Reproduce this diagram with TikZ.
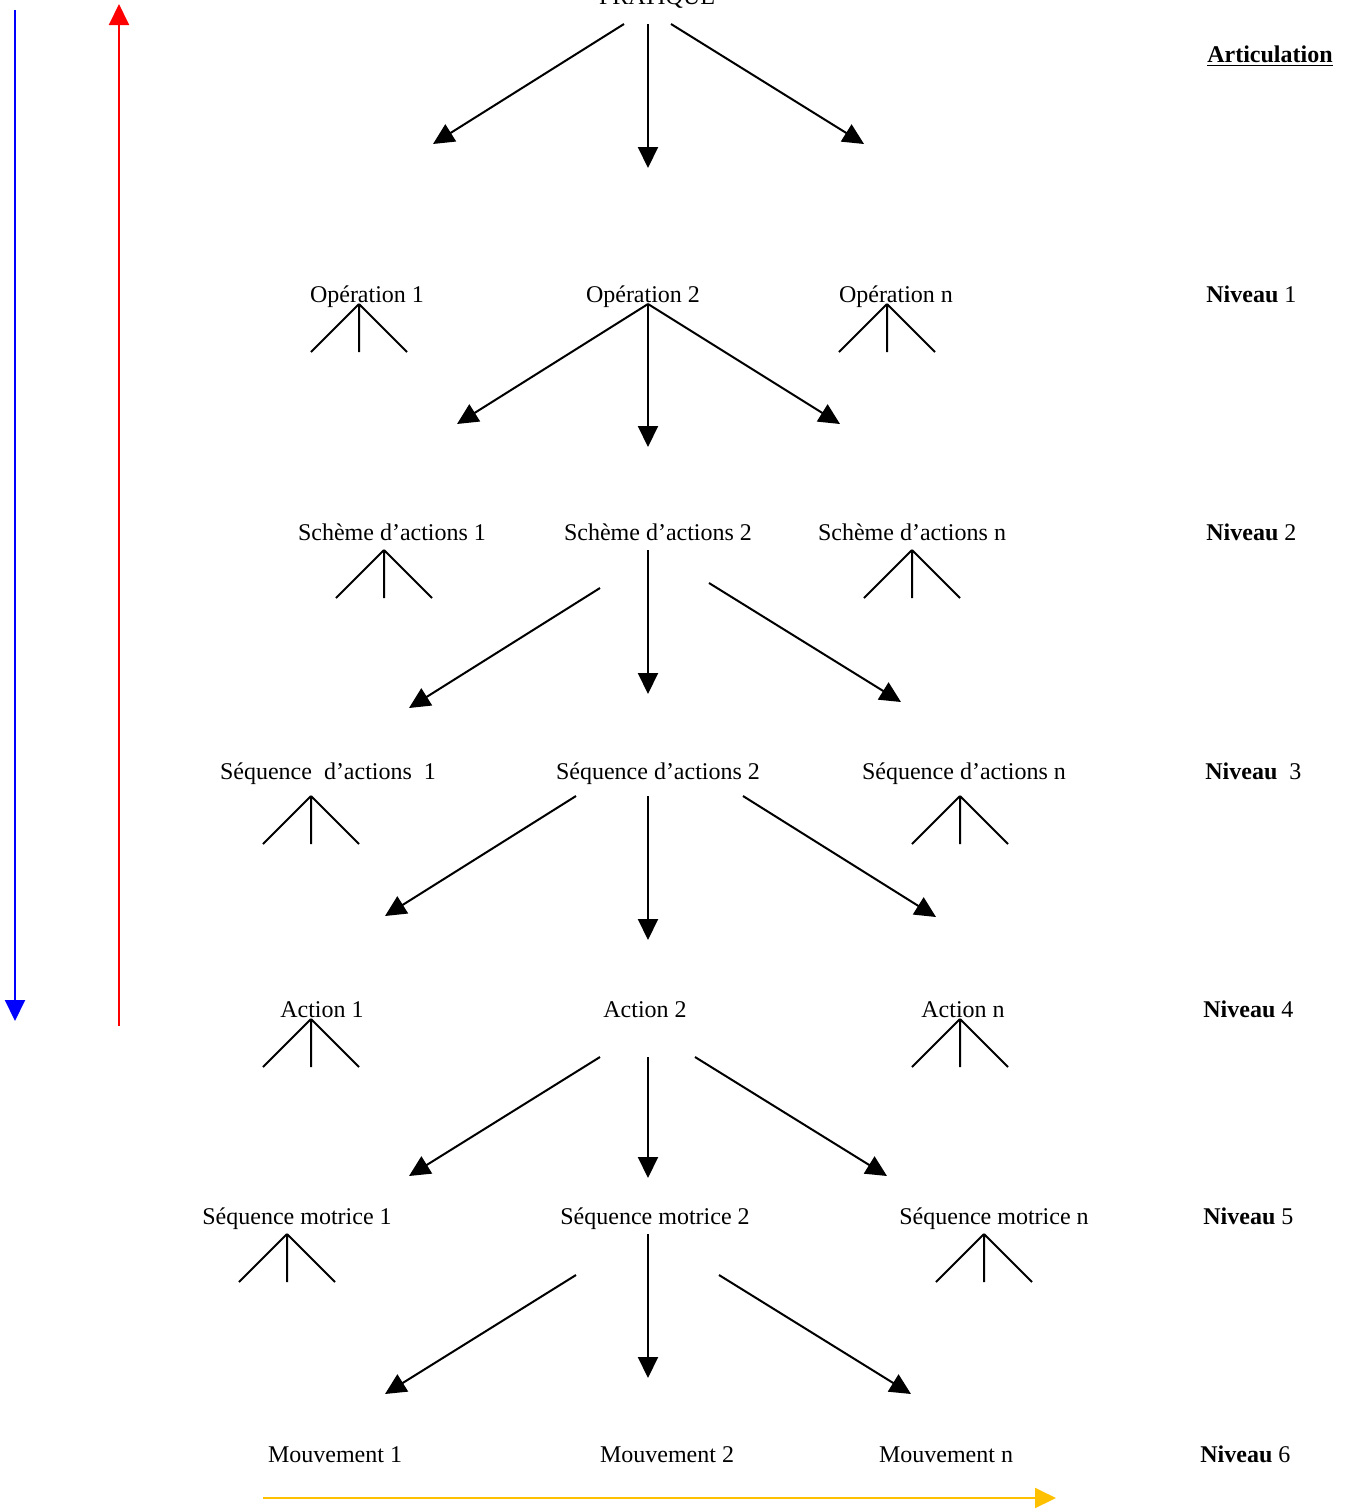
\documentclass[tikz,border=0pt]{standalone}
\usepackage{fontspec}
\setmainfont{Liberation Serif}
\usetikzlibrary{arrows.meta}

\begin{document}
\begin{tikzpicture}[x=0.5pt, y=-0.5pt,
    lbl/.style={anchor=base, inner sep=0pt, font=\fontsize{12pt}{14pt}\selectfont},
    niv/.style={lbl, anchor=base west},
    fleche/.style={line width=1pt, -{Triangle[length=10.5pt, width=10pt]}},
    fourche/.pic={\draw[line width=1pt] (0,0) -- (-48,48) (0,0) -- (0,48) (0,0) -- (48,48);}]
    \useasboundingbox (0,0) rectangle (1349,1512);
    % colonne des niveaux
    \node[lbl] (art) at (1270,62) {\textbf{\underline{Articulation}}};
    \node[niv] (niv1) at (1206,302) {\textbf{Niveau} 1};
    \node[niv] (niv2) at (1206,540) {\textbf{Niveau} 2};
    \node[niv] (niv3) at (1205,779) {\textbf{Niveau}\ \ 3};
    \node[niv] (niv4) at (1203,1017) {\textbf{Niveau} 4};
    \node[niv] (niv5) at (1203,1224) {\textbf{Niveau} 5};
    \node[niv] (niv6) at (1200,1462) {\textbf{Niveau} 6};
    % textes
    \node[lbl] (pr) at (657,4) {PRATIQUE};
    \node[lbl] (op1) at (367,302) {Opération 1};
    \node[lbl] (op2) at (643,302) {Opération 2};
    \node[lbl] (opn) at (896,302) {Opération n};
    \node[lbl] (sc1) at (392,540) {Schème d’actions 1};
    \node[lbl] (sc2) at (658,540) {Schème d’actions 2};
    \node[lbl] (scn) at (912,540) {Schème d’actions n};
    \node[lbl] (sq1) at (328,779) {Séquence\ \ d’actions\ \ 1};
    \node[lbl] (sq2) at (658,779) {Séquence d’actions 2};
    \node[lbl] (sqn) at (964,779) {Séquence d’actions n};
    \node[lbl] (ac1) at (322,1017) {Action 1};
    \node[lbl] (ac2) at (645,1017) {Action 2};
    \node[lbl] (acn) at (963,1017) {Action n};
    \node[lbl] (sm1) at (297,1224) {Séquence motrice 1};
    \node[lbl] (sm2) at (655,1224) {Séquence motrice 2};
    \node[lbl] (smn) at (994,1224) {Séquence motrice n};
    \node[lbl] (mv1) at (335,1462) {Mouvement 1};
    \node[lbl] (mv2) at (667,1462) {Mouvement 2};
    \node[lbl] (mvn) at (946,1462) {Mouvement n};
    % fourches
    \foreach \px/\py in {359/304, 887/304, 384/550, 912/550, 311/796,
                         960/796, 311/1019, 960/1019, 287/1234, 984/1234}
        \pic at (\px,\py) {fourche};
    % fleches noires
    \foreach \nom/\ax/\ay/\bx/\by in {pr/624/24/433/144, pr/648/24/648/168, pr/671/24/864/144,
            op/648/304/457/424, op/648/304/648/447, op/648/304/840/424,
            sc/600/588/409/708, sc/648/550/648/694, sc/709/583/901/702,
            sq/576/796/385/916, sq/648/796/648/940, sq/743/796/936/917,
            ac/600/1057/409/1176, ac/648/1057/648/1178, ac/695/1057/887/1176,
            sm/576/1275/385/1394, sm/648/1234/648/1378, sm/719/1275/911/1394}
    {
        \coordinate (\nom-a) at (\ax,\ay);
        \coordinate (\nom-b) at (\bx,\by);
        \draw[fleche] (\nom-a) -- (\nom-b);
    }
    % fleches de couleur
    \coordinate (bleu-a) at (15,10);
    \coordinate (bleu-b) at (15,1021);
    \coordinate (rouge-a) at (119,1026);
    \coordinate (rouge-b) at (119,4);
    \coordinate (jaune-a) at (263,1498);
    \coordinate (jaune-b) at (1056,1498);
    \draw[fleche, blue] (bleu-a) -- (bleu-b);
    \draw[fleche, red] (rouge-a) -- (rouge-b);
    \draw[fleche, color={rgb,255:red,255;green,192;blue,0}] (jaune-a) -- (jaune-b);
\end{tikzpicture}
\end{document}
